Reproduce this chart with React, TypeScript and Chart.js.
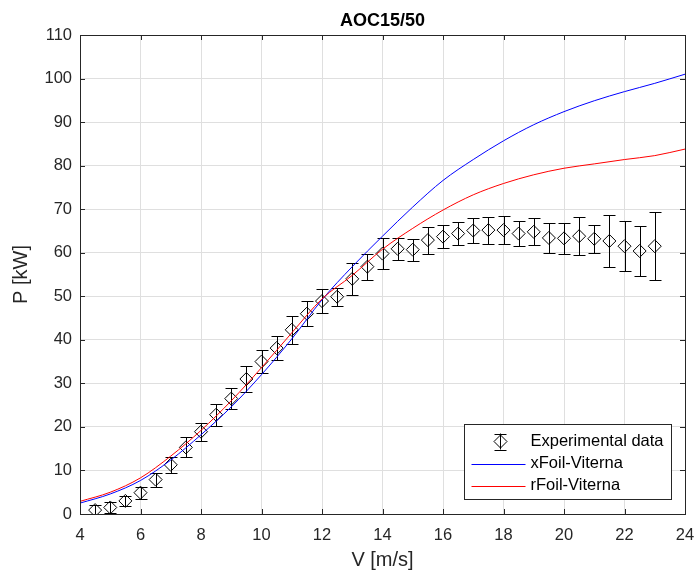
import React, { useEffect, useRef } from 'react';
import { Chart, registerables } from 'chart.js';

Chart.register(...registerables);

const chartTitle = 'AOC15/50';
const xAxisLabel = 'V [m/s]';
const yAxisLabel = 'P [kW]';
const legendLabels = ['Experimental data', 'xFoil-Viterna', 'rFoil-Viterna'];

const xMin = 4;
const xMax = 24;
const xStep = 2;
const yMin = 0;
const yMax = 110;
const yStep = 10;

const expV = [4.5, 5, 5.5, 6, 6.5, 7, 7.5, 8, 8.5, 9, 9.5, 10, 10.5, 11, 11.5, 12, 12.5, 13, 13.5, 14, 14.5, 15, 15.5, 16, 16.5, 17, 17.5, 18, 18.5, 19, 19.5, 20, 20.5, 21, 21.5, 22, 22.5, 23];
const expP = [0.9, 1.5, 3.0, 4.9, 7.9, 11.3, 15.3, 18.9, 22.8, 26.5, 31.0, 35.0, 38.1, 42.3, 46.0, 48.9, 49.9, 54.0, 56.8, 59.8, 60.9, 60.7, 62.9, 63.7, 64.4, 65.1, 65.2, 65.2, 64.4, 64.8, 63.4, 63.3, 63.8, 63.2, 62.7, 61.5, 60.4, 61.5];
const expErr = [1.2, 1.2, 1.1, 1.4, 1.6, 1.8, 2.3, 2.1, 2.5, 2.5, 3.0, 2.7, 2.7, 3.2, 2.9, 2.7, 2.1, 3.6, 3.0, 3.5, 2.5, 2.5, 3.1, 2.7, 2.7, 2.9, 3.1, 3.2, 2.8, 3.1, 3.5, 3.5, 4.3, 3.2, 5.9, 5.8, 5.8, 7.8];

const modelV = [4, 5, 6, 7, 8, 9, 10, 11, 12, 13, 14, 15, 16, 17, 18, 19, 20, 21, 22, 23, 24];
const xfoilP = [2.5, 4.6, 7.7, 12.4, 18.2, 24.6, 32.0, 40.2, 49.2, 56.8, 63.8, 70.5, 76.6, 81.4, 85.7, 89.4, 92.4, 94.9, 97.0, 98.9, 101.0];
const rfoilP = [2.9, 5.0, 8.3, 13.3, 19.2, 26.0, 33.6, 41.6, 49.4, 54.8, 60.8, 65.6, 69.8, 73.3, 75.9, 77.9, 79.4, 80.4, 81.4, 82.3, 83.8];

const FONT = '"Liberation Sans", Arial, Helvetica, sans-serif';
const TEXT = '#262626';
const GRID = '#dfdfdf';

const errorBarPlugin = {
  id: 'errorBars',
  beforeDatasetsDraw(chart: any) {
    const { ctx, scales } = chart;
    const xs = scales.x;
    const ys = scales.y;
    const cap = 6;
    ctx.save();
    ctx.strokeStyle = '#000000';
    ctx.lineWidth = 1;
    for (let i = 0; i < expV.length; i++) {
      const px = Math.round(xs.getPixelForValue(expV[i])) + 0.5;
      const top = Math.round(ys.getPixelForValue(expP[i] + expErr[i])) + 0.5;
      const bot = Math.round(ys.getPixelForValue(Math.max(expP[i] - expErr[i], yMin))) + 0.5;
      ctx.beginPath();
      ctx.moveTo(px, top);
      ctx.lineTo(px, bot);
      ctx.moveTo(px - cap, top);
      ctx.lineTo(px + cap, top);
      ctx.moveTo(px - cap, bot);
      ctx.lineTo(px + cap, bot);
      ctx.stroke();
    }
    ctx.restore();
  },
};

const framePlugin = {
  id: 'frame',
  afterDatasetsDraw(chart: any) {
    const { ctx, chartArea, scales } = chart;
    const { left, right, top, bottom } = chartArea;
    const tl = 5;
    ctx.save();
    ctx.strokeStyle = TEXT;
    ctx.lineWidth = 1;
    ctx.beginPath();
    scales.x.ticks.forEach((t: any) => {
      const px = Math.round(scales.x.getPixelForValue(t.value)) + 0.5;
      ctx.moveTo(px, bottom);
      ctx.lineTo(px, bottom - tl);
      ctx.moveTo(px, top);
      ctx.lineTo(px, top + tl);
    });
    scales.y.ticks.forEach((t: any) => {
      const py = Math.round(scales.y.getPixelForValue(t.value)) + 0.5;
      ctx.moveTo(left, py);
      ctx.lineTo(left + tl, py);
      ctx.moveTo(right, py);
      ctx.lineTo(right - tl, py);
    });
    ctx.stroke();
    ctx.strokeRect(Math.round(left) + 0.5, Math.round(top) + 0.5, Math.round(right - left), Math.round(bottom - top));
    ctx.restore();
  },
};

const legendPlugin = {
  id: 'customLegend',
  afterDraw(chart: any) {
    const { ctx, chartArea } = chart;
    const boxW = 207;
    const boxH = 75;
    const bx = Math.round(chartArea.right - 14 - boxW) + 0.5;
    const by = Math.round(chartArea.bottom - 15 - boxH) + 0.5;
    ctx.save();
    ctx.fillStyle = '#ffffff';
    ctx.fillRect(bx, by, boxW, boxH);
    ctx.strokeStyle = TEXT;
    ctx.lineWidth = 1;
    ctx.strokeRect(bx, by, boxW, boxH);
    const rowY = [by + 17, by + 39, by + 61];
    const textX = bx + 66;
    const ix = Math.round(bx + 35) + 0.5;
    const iy = rowY[0];
    ctx.strokeStyle = '#000000';
    ctx.beginPath();
    ctx.moveTo(ix, iy - 8);
    ctx.lineTo(ix, iy + 8);
    ctx.moveTo(ix - 6, Math.round(iy - 8) + 0.5);
    ctx.lineTo(ix + 6, Math.round(iy - 8) + 0.5);
    ctx.moveTo(ix - 6, Math.round(iy + 8) + 0.5);
    ctx.lineTo(ix + 6, Math.round(iy + 8) + 0.5);
    ctx.stroke();
    ctx.beginPath();
    ctx.moveTo(ix - 6.5, iy);
    ctx.lineTo(ix, iy - 6.5);
    ctx.lineTo(ix + 6.5, iy);
    ctx.lineTo(ix, iy + 6.5);
    ctx.closePath();
    ctx.stroke();
    const colors = ['#0000ff', '#ff0000'];
    for (let k = 0; k < 2; k++) {
      const ly = Math.round(rowY[k + 1]) + 0.5;
      ctx.strokeStyle = colors[k];
      ctx.beginPath();
      ctx.moveTo(bx + 7, ly);
      ctx.lineTo(bx + 61, ly);
      ctx.stroke();
    }
    ctx.fillStyle = '#000000';
    ctx.font = `16.5px ${FONT}`;
    ctx.textAlign = 'left';
    ctx.textBaseline = 'middle';
    legendLabels.forEach((lab, k) => ctx.fillText(lab, textX, rowY[k]));
    ctx.restore();
  },
};

export default function App() {
  const canvasRef = useRef<HTMLCanvasElement | null>(null);

  useEffect(() => {
    if (!canvasRef.current) return;
    const chart = new Chart(canvasRef.current, {
      type: 'line',
      data: {
        datasets: [
          {
            label: legendLabels[0],
            data: expV.map((v, i) => ({ x: v, y: expP[i] })),
            showLine: false,
            pointStyle: 'rectRot',
            pointRadius: 6.5,
            pointBorderWidth: 1,
            pointBorderColor: '#000000',
            pointBackgroundColor: 'rgba(0,0,0,0)',
            borderColor: '#000000',
            order: 3,
          },
          {
            label: legendLabels[1],
            data: modelV.map((v, i) => ({ x: v, y: xfoilP[i] })),
            borderColor: '#0000ff',
            borderWidth: 1,
            pointRadius: 0,
            cubicInterpolationMode: 'monotone',
            order: 2,
          },
          {
            label: legendLabels[2],
            data: modelV.map((v, i) => ({ x: v, y: rfoilP[i] })),
            borderColor: '#ff0000',
            borderWidth: 1,
            pointRadius: 0,
            cubicInterpolationMode: 'monotone',
            order: 1,
          },
        ],
      },
      options: {
        animation: false,
        responsive: true,
        maintainAspectRatio: false,
        layout: { padding: { top: 0, right: 14, bottom: 0, left: 0 } },
        plugins: {
          legend: { display: false },
          tooltip: { enabled: false },
          title: {
            display: true,
            text: chartTitle,
            fullSize: false,
            color: '#000000',
            font: { family: FONT, size: 18, weight: 'bold' },
            padding: { top: 10, bottom: 3.4 },
          },
        },
        scales: {
          x: {
            type: 'linear',
            min: xMin,
            max: xMax,
            afterFit: (s: any) => { s.height = 64; s.paddingLeft = 0; s.paddingRight = 0; },
            ticks: { stepSize: xStep, color: TEXT, font: { family: FONT, size: 16.5 }, padding: 12, maxRotation: 0, autoSkip: false },
            grid: { color: GRID, drawTicks: false },
            border: { display: false },
            title: { display: true, text: xAxisLabel, color: TEXT, font: { family: FONT, size: 20 }, padding: { top: 2, bottom: 6 } },
          },
          y: {
            type: 'linear',
            min: yMin,
            max: yMax,
            afterFit: (s: any) => { s.width = 80; s.paddingTop = 0; s.paddingBottom = 0; },
            ticks: { stepSize: yStep, color: TEXT, font: { family: FONT, size: 16.5 }, padding: 8, autoSkip: false },
            grid: { color: GRID, drawTicks: false },
            border: { display: false },
            title: { display: true, text: yAxisLabel, color: TEXT, font: { family: FONT, size: 20 }, padding: { top: 9, bottom: 2 } },
          },
        },
      },
      plugins: [errorBarPlugin, framePlugin, legendPlugin],
    } as any);
    return () => chart.destroy();
  }, []);

  return (
    <div style={{ position: 'fixed', left: 0, top: 0, width: 699, height: 578, background: '#ffffff' }}>
      <canvas ref={canvasRef} />
    </div>
  );
}
